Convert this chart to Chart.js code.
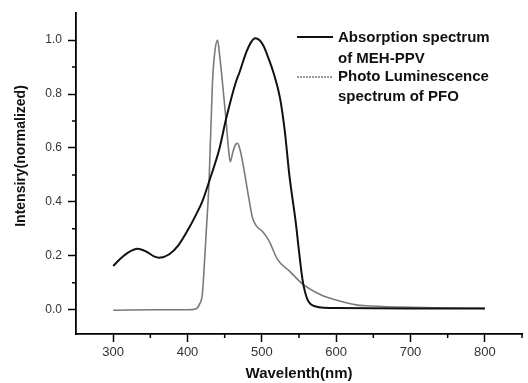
<!DOCTYPE html>
<html>
<head>
<meta charset="utf-8">
<script src="https://cdn.jsdelivr.net/npm/chart.js@4/dist/chart.umd.min.js"></script>
<style>
  html, body { margin: 0; padding: 0; background: #fff; }
  #wrap { width: 528px; height: 383px; position: relative; }
</style>
</head>
<body>
<div id="wrap"><canvas id="spectra"></canvas></div>
<script>
// wavelengths (nm) and normalized intensity
var absWavelength = [300, 310, 320, 333, 345, 355, 362, 375, 388, 402, 411, 420, 429, 443, 452, 465, 470, 479, 485, 491, 497, 502, 508, 515.5, 524.6, 531, 537, 546, 550, 555, 561, 566, 573, 580, 600, 700, 800];
var absIntensity  = [0.162, 0.19, 0.212, 0.226, 0.215, 0.198, 0.193, 0.205, 0.24, 0.303, 0.35, 0.402, 0.475, 0.598, 0.709, 0.844, 0.881, 0.955, 0.99, 1.007, 1.0, 0.98, 0.94, 0.881, 0.783, 0.66, 0.5, 0.316, 0.217, 0.107, 0.04, 0.02, 0.012, 0.008, 0.006, 0.005, 0.005];

var plWavelength = [300, 350, 400, 411, 416, 420, 422.5, 425, 429, 433.6, 436.5, 440.4, 443, 447, 451.7, 455, 457.5, 461, 464.5, 467.5, 471, 476, 482.5, 487.5, 493, 501, 510, 521, 537, 555, 582, 595, 627, 640, 685, 750, 800];
var plIntensity  = [-0.002, 0.0, 0.0, 0.003, 0.02, 0.058, 0.16, 0.28, 0.475, 0.844, 0.95, 1.0, 0.95, 0.844, 0.709, 0.6, 0.549, 0.585, 0.612, 0.617, 0.59, 0.52, 0.414, 0.34, 0.31, 0.29, 0.254, 0.187, 0.144, 0.095, 0.052, 0.04, 0.018, 0.015, 0.01, 0.006, 0.005];

var xTicks = [300, 400, 500, 600, 700, 800];
var xMinorTicks = [350, 450, 550, 650, 750, 850];
var yTicks = [0.0, 0.2, 0.4, 0.6, 0.8, 1.0];
var yMinorTicks = [0.1, 0.3, 0.5, 0.7, 0.9];

var seriesNames = [['Absorption spectrum', 'of MEH-PPV'], ['Photo Luminescence', 'spectrum of PFO']];
var absColor = '#111111';
var plColor = '#7a7a7a';
var fontFamily = '"Liberation Sans", Arial, sans-serif';

var toPoints = function(xs, ys) {
    return xs.map(function(x, i) { return {x: x, y: ys[i]}; });
};

// minor ticks, y title and the in-plot legend
var extrasPlugin = {
    id: 'extras',
    afterDraw: function(chart) {
        var ctx = chart.ctx;
        var xs = chart.scales.x, ys = chart.scales.y;
        ctx.save();
        ctx.strokeStyle = '#000';
        ctx.lineWidth = 1.5;
        ctx.beginPath();
        xMinorTicks.forEach(function(v) {
            var px = xs.getPixelForValue(v);
            ctx.moveTo(px, xs.top);
            ctx.lineTo(px, xs.top + 4);
        });
        yMinorTicks.forEach(function(v) {
            var py = ys.getPixelForValue(v);
            ctx.moveTo(ys.right, py);
            ctx.lineTo(ys.right - 4, py);
        });
        ctx.stroke();

        // y axis title
        ctx.fillStyle = '#111';
        ctx.font = 'bold 14px ' + fontFamily;
        ctx.textAlign = 'center';
        ctx.textBaseline = 'middle';
        ctx.translate(21, 156);
        ctx.rotate(-Math.PI / 2);
        ctx.fillText('Intensiry(normalized)', 0, 0);
        ctx.setTransform(1, 0, 0, 1, 0, 0);

        // legend
        ctx.font = 'bold 15px ' + fontFamily;
        ctx.textAlign = 'left';
        ctx.lineWidth = 2;
        ctx.strokeStyle = absColor;
        ctx.beginPath();
        ctx.moveTo(297, 37);
        ctx.lineTo(333, 37);
        ctx.stroke();
        ctx.fillText(seriesNames[0][0], 338, 38);
        ctx.fillText(seriesNames[0][1], 338, 59);

        ctx.lineWidth = 1.5;
        ctx.strokeStyle = plColor;
        ctx.setLineDash([2, 1]);
        ctx.beginPath();
        ctx.moveTo(297, 77);
        ctx.lineTo(333, 77);
        ctx.stroke();
        ctx.setLineDash([]);
        ctx.fillText(seriesNames[1][0], 338, 77);
        ctx.fillText(seriesNames[1][1], 338, 97);
        ctx.restore();
    }
};

new Chart(document.getElementById('spectra').getContext('2d'), {
    type: 'scatter',
    data: {
        datasets: [{
            label: 'Absorption spectrum of MEH-PPV',
            data: toPoints(absWavelength, absIntensity),
            showLine: true,
            borderColor: absColor,
            borderWidth: 2,
            pointRadius: 0,
            cubicInterpolationMode: 'monotone'
        }, {
            label: 'Photo Luminescence spectrum of PFO',
            data: toPoints(plWavelength, plIntensity),
            showLine: true,
            borderColor: plColor,
            borderWidth: 1.6,
            pointRadius: 0,
            cubicInterpolationMode: 'monotone'
        }]
    },
    options: {
        responsive: true,
        maintainAspectRatio: false,
        animation: false,
        layout: { padding: { left: 0, right: 6, top: 10, bottom: 0 } },
        plugins: {
            legend: { display: false },
            tooltip: { enabled: false }
        },
        scales: {
            x: {
                type: 'linear',
                min: 250,
                max: 850,
                afterBuildTicks: function(scale) {
                    scale.ticks = xTicks.map(function(v) { return {value: v}; });
                },
                afterFit: function(scale) { scale.height = 49; },
                grid: { drawOnChartArea: false, tickLength: 8, tickColor: '#000', tickWidth: 1.5 },
                border: { color: '#000', width: 1.8 },
                ticks: {
                    color: '#333',
                    font: { family: fontFamily, size: 13 },
                    padding: 3,
                    maxRotation: 0
                },
                title: {
                    display: true,
                    text: 'Wavelenth(nm)',
                    color: '#111',
                    font: { family: fontFamily, size: 15, weight: 'bold' },
                    padding: { top: 3, bottom: 0 }
                }
            },
            y: {
                min: -0.09,
                max: 1.1,
                afterBuildTicks: function(scale) {
                    scale.ticks = yTicks.map(function(v) { return {value: v}; });
                },
                afterFit: function(scale) { scale.width = 76; },
                grid: { drawOnChartArea: false, tickLength: 8, tickColor: '#000', tickWidth: 1.5 },
                border: { color: '#000', width: 1.8 },
                ticks: {
                    color: '#333',
                    font: { family: fontFamily, size: 12 },
                    padding: 6,
                    callback: function(v) { return v.toFixed(1); }
                }
            }
        }
    },
    plugins: [extrasPlugin]
});
</script>
</body>
</html>
